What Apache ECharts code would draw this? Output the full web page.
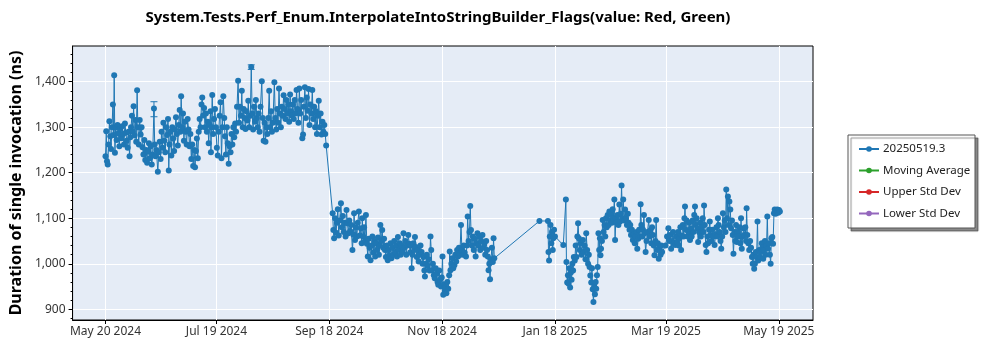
<!DOCTYPE html>
<html><head><meta charset="utf-8">
<script src="https://cdn.jsdelivr.net/npm/echarts@6/dist/echarts.min.js"></script>
<style>html,body{margin:0;padding:0;background:#fff}#c{width:1000px;height:350px}</style>
</head><body><div id="c"></div>
<script>
// ---------- texts ----------
const chartTitle = 'System.Tests.Perf_Enum.InterpolateIntoStringBuilder_Flags(value: Red, Green)';
const yAxisTitle = 'Duration of single invocation (ns)';
const seriesNames = ['20250519.3', 'Moving Average', 'Upper Std Dev', 'Lower Std Dev'];
const seriesColors = ['#1f77b4', '#2ca02c', '#d62728', '#9467bd'];

// x values are days since 2024-05-20
const xTickDays = [0, 60, 121, 182, 243, 303, 364];
const xTickLabels = ['May 20 2024', 'Jul 19 2024', 'Sep 18 2024', 'Nov 18 2024', 'Jan 18 2025', 'Mar 19 2025', 'May 19 2025'];
const yTickValues = [900, 1000, 1100, 1200, 1300, 1400];

// ---------- data: [day, ns] ----------
const runsMayJul = [[0,1236],[0.4,1291],[0.8,1225],[1.2,1218],[1.7,1262],[2.1,1313],[2.6,1280],[3,1252],[3.5,1300],[4,1350],[4.4,1283],[4.7,1414],[5.1,1244],[5.5,1300],[6,1272],[6.5,1305],[7,1286],[7.5,1258],[8,1296],[8.5,1276],[9,1302],[9.5,1285],[10,1262],[10.5,1308],[11,1288],[11.5,1270],[12,1255],[12.5,1290],[13,1236],[13.4,1278],[13.8,1300],[14.3,1325],[14.8,1290],[15.2,1346],[15.7,1282],[16.2,1316],[16.6,1268],[17.1,1381],[17.5,1300],[18,1262],[18.5,1316],[19,1284],[19.5,1300],[20,1256],
[20.5,1240],[21,1272],[21.5,1228],[22,1250],[22.5,1222],[23,1246],[23.5,1265],[24,1232],[24.5,1258],[25,1218],[25.5,1240],[26.2,1341],[26.6,1262],[27,1236],[27.5,1250],[28.3,1202],[28.8,1245],[29.3,1268],[29.8,1230],[30.3,1290],[30.8,1255],
[31.3,1310],[31.8,1270],[32.3,1245],[32.8,1300],[33.3,1283],[33.8,1318],[34.2,1205],[34.6,1262],[35.1,1290],[35.6,1238],[36.1,1300],[36.6,1275],[37.1,1248],[37.6,1295],[38.1,1322],[38.6,1285],[39.1,1260],[39.6,1305],[40.1,1338],[40.5,1290],[40.9,1368],[41.4,1300],[41.9,1330],[42.4,1270],[42.9,1312],[43.4,1290],[43.9,1262],[44.4,1318],[44.9,1295],
[45.4,1258],[45.9,1285],[46.4,1230],[46.9,1262],[47.4,1215],[47.9,1250],[48.4,1212],[48.9,1248],[49.4,1275],[49.9,1232],
[50.4,1290],[50.9,1318],[51.4,1300],[51.9,1350],[52.3,1365],[52.8,1326],[53.3,1342],[53.8,1300],[54.3,1330],[54.8,1290],[55.3,1312],[55.8,1265],[56.3,1305],[56.8,1335],[57,1245],[57.3,1300],[57.7,1371],[58.2,1285],[58.7,1318],[59.2,1340],[59.7,1300]];

const runsJulSep = [[60.2,1255],[60.7,1238],[61.2,1290],[61.7,1325],[62.2,1355],[62.7,1232],[63.2,1300],[63.7,1368],[64.2,1320],[64.6,1280],[65.1,1240],[65.6,1300],[66.1,1265],[66.6,1220],[67.1,1258],[67.6,1245],[68.1,1285],[68.6,1262],[69.1,1300],[69.6,1278],[70.1,1308],[70.6,1290],[71.1,1345],[71.7,1402],[72.2,1310],[72.7,1345],[73.2,1325],[73.7,1380],[74.2,1300],[74.7,1340],[75.2,1320],[75.7,1296],[76.2,1335],[76.7,1315],[77.2,1358],[77.7,1300],[78.3,1325],[78.8,1432],[79.3,1330],[79.8,1295],[80.3,1345],[80.8,1312],[81.3,1360],[81.8,1320],[82.3,1300],[82.8,1330],[83.3,1290],[83.8,1345],[84.5,1401],[85,1320],[85.5,1270],[86,1310],[86.5,1268],[87,1300],[87.5,1285],[88,1320],[88.5,1380],[89,1300],[89.5,1335],[90,1290],[90.5,1310],[91.3,1399],[91.8,1320],[92.3,1295],[92.8,1340],[93.3,1310],[93.8,1385],[94.3,1330],[94.8,1300],[95.3,1345],[95.8,1325],[96.3,1370],[96.8,1340],[97.3,1318],[97.8,1360],[98.3,1330],[98.8,1350],[99.3,1312],[99.8,1372],[100.3,1335],[100.8,1325],[101.3,1350],[101.8,1318],[102.3,1360],[102.8,1330],[103.3,1382],[103.8,1340],[104.3,1310],[104.8,1385],[105.3,1330],[105.8,1360],[106.4,1276],[106.8,1284],[107.3,1345],[107.8,1388],[108.3,1320],[108.8,1365],[109.3,1336],[109.8,1384],[110.3,1305],[110.8,1350],[111.3,1330],[111.8,1382],[112.3,1318],[112.8,1345],[113.3,1300],[113.8,1335],[114.3,1285],[114.8,1325],[115.3,1358],[115.8,1300],[116.3,1330],[116.8,1284],[117.3,1312],[117.8,1290],[118.3,1305],[118.8,1285],[119.3,1260]];

const runsSepDec = [[122.8,1111],[123.2,1074],[123.6,1056],[124.1,1100],[124.6,1068],[125.1,1090],[125.6,1120],[126.1,1062],[126.6,1095],[127.3,1133],[127.8,1080],[128.3,1105],[128.8,1070],[129.3,1090],[129.8,1060],[130.3,1118],[130.8,1089],[131.3,1067],[131.8,1095],[132.3,1072],[132.8,1085],[133.5,1030],[134,1064],[134.4,1111],[134.9,1052],[135.4,1080],[135.9,1060],[136.4,1090],[137,1115],[137.5,1062],[138,1078],[138.5,1045],[138.8,1100],[139.3,1060],[139.8,1080],[140.3,1050],[140.8,1107],[141.3,1044],[141.8,1016],[142.3,1055],[142.8,1035],[143.3,1008],[143.8,1040],[144.3,1060],[144.8,1025],[145.3,1050],[145.8,1016],[146.3,1045],[146.8,1030],[147.3,1058],[147.8,1020],[148.3,1040],[148.6,1085],[149.1,1050],[149.6,1074],[150.1,1035],[150.6,1055],[151.1,1030],[151.6,1015],[152.1,1040],[152.6,1008],[153.1,1030],[153.6,1018],[154.1,1045],[154.6,1012],[155.1,1035],[155.6,1020],[156.1,1050],[156.6,1025],[157.1,1040],[157.6,1016],[158.1,1059],[158.6,1030],[159.1,1045],[159.6,1020],[160.1,1040],[160.6,1026],[161.1,1067],[161.6,1035],[162.1,1050],[162.6,1020],[163.1,1040],[163.7,1063],[164.2,1044],[164.7,1025],[165.1,1040],[165.5,990],[166,1020],[166.5,1045],[167,1030],[167.3,1059],[167.8,1037],[168.3,1015],[168.8,1030],[169.3,1005],[169.8,1020],[170.3,1040],[170.9,1026],[171.4,1000],[171.9,1015],[172.4,985],[172.7,972],[173.2,1000],[173.7,1020],[174.2,995],[174.7,1010],[175.2,985],[175.7,1060],[176.1,1030],[176.5,986],[177,1000],[177.5,975],[178,968],[178.5,990],[179,978],[179.5,960],[179.9,954],[180.4,985],[180.9,965],[181.4,950],[181.8,970],[182.2,1016],[182.6,932],[183,955],[183.4,940],[183.8,948],[184.3,935],[184.8,960],[185.3,945],[185.8,975],[186.1,1027],[186.5,986],[187,1000],[187.5,1012],[188,990],[188.6,997],[189.1,1020],[189.6,1005],[190.1,1030],[190.6,1016],[191.1,1035],[191.6,1020],[192.2,1085],[192.7,1030],[193.2,1020],[193.7,1040],[194.2,1025],[194.9,1016],[195.4,1040],[195.8,1104],[196.3,1050],[196.8,1070],[197.2,1127],[197.6,1074],[198.1,1040],[198.6,1060],[199.1,1030],[199.6,1055],[200.1,1016],[200.6,1045],[201.1,1067],[201.6,1040],[202.1,1060],[202.6,1030],[203.1,1050],[203.8,1063],[204.3,1035],[204.8,1044],[205.3,1020],[205.8,1050],[206.3,1030],[206.7,1016],[207.1,986],[207.5,1000],[207.9,966],[208.4,1010],[208.9,1035],[209.4,1004],[209.8,1056],[210.2,1012]];

const runsJanMar = [[234.6,1094],[239.2,1094],[239.5,1026],[239.8,1007],[240.2,1060],[240.6,1085],[241,1045],[241.4,1070],[241.8,1030],[242.1,1056],[242.5,1075],[243,1060],[247.5,1041],[248.9,1141],[249.2,1004],[249.6,959],[250,975],[250.4,956],[250.8,990],[251.2,948],[251.6,981],[252,965],[252.4,1000],[252.8,985],[253.2,1015],[253.7,1007],[254.2,1040],[254.6,1015],[255.1,1060],[255.5,1089],[255.9,1056],[256.4,1030],[256.9,1045],[257.4,1020],[258.1,1052],[258.5,1026],[259,1040],[259.5,1010],[259.9,1067],[260.4,1030],[260.9,1000],[261.3,1020],[261.7,993],[262.1,974],[262.6,959],[263,990],[263.4,944],[263.8,916],[264.2,950],[264.6,933],[265,960],[265.3,945],[265.7,975],[266.1,993],[266.5,1067],[266.9,1030],[267.3,1056],[267.6,1019],[267.9,1033],[268.4,1050],[268.8,1096],[269.3,1070],[269.8,1085],[270.2,1060],[270.6,1100],[271,1080],[271.5,1107],[272,1085],[272.4,1115],[272.9,1095],[273.3,1110],[273.8,1090],[274.2,1120],[274.6,1100],[275.1,1141],[275.5,1052],[275.9,1100],[276.4,1090],[276.8,1107],[277.3,1085],[277.8,1130],[278.2,1093],[278.6,1110],[279,1172],[279.5,1100],[279.9,1141],[280.4,1095],[280.9,1119],[281.4,1100],[281.9,1085],[282.4,1110],[282.8,1090],[283.3,1075],[283.7,1085],[284.1,1063],[284.6,1075],[285.1,1052],[285.6,1065],[286.1,1045],[286.6,1060],[287.1,1070],[287.5,1033],[288,1055],[288.5,1075],[289,1060],[289.3,1131],[289.7,1085],[290.2,1060],[290.6,1075],[291.1,1107],[291.5,1067],[292,1026],[292.5,1050],[293,1070],[293.7,1096],[294.2,1060],[294.7,1074],[295.1,1045],[295.5,1080],[296,1063],[296.4,1040],[296.8,1019],[297.3,1050],[297.7,1096],[298.2,1030],[298.6,1045],[299.1,1011],[299.6,1035],[300.1,1020],[300.5,1040],[300.9,1026]];

const runsMarMay = [[302.8,1040],[303.6,1060],[304.3,1078],[304.8,1050],[305.3,1063],[305.8,1033],[306.3,1050],[306.8,1070],[307.3,1045],[308,1041],[308.5,1060],[309,1048],[309.5,1070],[309.9,1040],[310.3,1056],[310.8,1080],[311.2,1030],[311.6,1062],[312.1,1085],[312.6,1060],[313,1100],[313.3,1126],[313.7,1075],[314.2,1095],[314.7,1060],[315.1,1070],[315.6,1090],[316,1052],[316.5,1078],[316.9,1060],[317.4,1095],[317.9,1070],[318.3,1107],[318.7,1126],[319.1,1085],[319.6,1100],[320,1078],[320.4,1048],[320.9,1070],[321.4,1090],[321.9,1060],[322.4,1080],[322.9,1100],[323.3,1070],[323.6,1128],[324,1085],[324.5,1041],[324.9,1026],[325.4,1060],[325.8,1045],[326.3,1075],[326.7,1093],[327.1,1063],[327.6,1050],[328.1,1075],[328.6,1060],[329.3,1041],[329.8,1065],[330.3,1080],[330.7,1060],[331.1,1100],[331.5,1085],[332,1070],[332.5,1050],[332.9,1033],[333.4,1060],[333.8,1111],[334.3,1080],[334.8,1095],[335.2,1070],[335.6,1163],[336,1100],[336.5,1148],[336.9,1085],[337.3,1137],[337.8,1119],[338.2,1078],[338.7,1095],[339.1,1063],[339.5,1022],[340,1070],[340.5,1050],[340.9,1085],[341.3,1048],[341.8,1070],[342.3,1060],[342.8,1080],[343.2,1045],[343.6,1100],[344,1033],[344.5,1060],[345,1078],[345.4,1063],[345.9,1080],[346.3,1050],[346.6,1122],[347,1063],[347.5,1045],[348,1030],[348.5,1050],[349,1035],[349.5,1015],[349.9,1000],[350.3,1020],[350.7,989],[351.1,1000],[351.6,1026],[352,1015],[352.5,1093],[352.9,1007],[353.4,1030],[353.9,1015],[354.3,1026],[354.8,1045],[355.2,1037],[355.6,1011],[356,1030],[356.5,1050],[357,1020],[357.4,1040],[357.8,1104],[358.2,1033],[358.7,1045],[359.2,1020],[359.6,1000],[360,1056],[360.5,1059],[360.9,1044],[361.4,1111],[361.8,1119],[362.3,1110],[362.8,1116],[363.2,1119],[363.7,1112],[364.1,1118],[364.6,1115]];

// visible error bars: [day, low, high]
const errorBars = [[26.2,1323,1356],[78.8,1427,1437]];

// ---------- chart ----------
const FONT = "'Noto Sans', 'Open Sans', sans-serif";
const allRuns = runsMayJul.concat(runsJulSep, runsSepDec, runsJanMar, runsMarMay);
const minorY = [];
for (let v = 880; v <= 1460; v += 20) if (v % 100 !== 0) minorY.push(v);

const chart = echarts.init(document.getElementById('c'), null, {renderer: 'canvas'});
const xMin = -17.8, xMax = 382.5, yMin = 876.5, yMax = 1478.4;

chart.setOption({
  animation: false,
  textStyle: {fontFamily: FONT},
  grid: {left: 63, right: 187, top: 46, bottom: 30, show: true, backgroundColor: '#E5ECF6', borderColor: '#000', borderWidth: 1},
  graphic: [
    {type: 'text', x: 438, y: 18, z: 10, style: {text: chartTitle, textAlign: 'center', textVerticalAlign: 'middle', font: "bold 15px " + FONT, fill: '#000'}},
    {type: 'rect', z: 1, shape: {x: 848, y: 135, width: 127, height: 93}, style: {fill: '#fff', stroke: '#555', lineWidth: 1, shadowColor: 'rgba(0,0,0,0.45)', shadowOffsetX: 3, shadowOffsetY: 3, shadowBlur: 1}}
  ],
  legend: {
    orient: 'vertical', left: 858, top: 142, z: 20, padding: 0,
    itemWidth: 20, itemHeight: 7, itemGap: 7.5,
    textStyle: {fontSize: 11.5, color: '#222', fontFamily: FONT, lineHeight: 14, padding: [0, 0, 0, -1]},
    data: seriesNames
  },
  xAxis: {
    type: 'value', min: xMin, max: xMax,
    axisLine: {show: true, onZero: false, lineStyle: {color: '#000'}},
    axisTick: {show: true, length: 4, customValues: xTickDays, lineStyle: {color: '#000'}},
    axisLabel: {customValues: xTickDays, fontSize: 12, color: '#333', margin: 6,
      formatter: v => { const i = xTickDays.indexOf(Math.round(v)); return i >= 0 ? xTickLabels[i] : ''; }},
    splitLine: {show: true, lineStyle: {color: '#fff', width: 1}}
  },
  yAxis: [{
    type: 'value', min: yMin, max: yMax,
    name: yAxisTitle, nameLocation: 'middle', nameGap: 41,
    nameTextStyle: {fontSize: 16, fontWeight: 'bold', color: '#000', fontFamily: FONT},
    axisLine: {show: true, onZero: false, lineStyle: {color: '#000'}},
    axisTick: {show: true, length: 4, customValues: yTickValues, lineStyle: {color: '#000'}},
    axisLabel: {customValues: yTickValues, fontSize: 12, color: '#333', margin: 7,
      formatter: v => Math.round(v).toLocaleString('en-US')},
    splitLine: {show: true, lineStyle: {color: '#fff', width: 1}}
  }, {
    type: 'value', min: yMin, max: yMax, position: 'left', offset: 0,
    axisLine: {show: false, onZero: false},
    axisTick: {show: true, length: 2, customValues: minorY, lineStyle: {color: '#000'}},
    axisLabel: {show: false},
    splitLine: {show: false}
  }],
  series: [
    {name: seriesNames[0], type: 'line', data: allRuns, color: seriesColors[0],
      symbol: 'circle', symbolSize: 6, showSymbol: true, lineStyle: {width: 1, color: seriesColors[0]},
      itemStyle: {color: seriesColors[0]}, z: 3},
    {name: seriesNames[1], type: 'line', data: [], color: seriesColors[1], symbol: 'circle', itemStyle: {color: seriesColors[1]}},
    {name: seriesNames[2], type: 'line', data: [], color: seriesColors[2], symbol: 'circle', itemStyle: {color: seriesColors[2]}},
    {name: seriesNames[3], type: 'line', data: [], color: seriesColors[3], symbol: 'circle', itemStyle: {color: seriesColors[3]}},
    {name: 'errors', type: 'custom', data: errorBars, z: 4, encode: {x: 0, y: [1, 2]},
      renderItem: (params, api) => {
        const lo = api.coord([api.value(0), api.value(1)]);
        const hi = api.coord([api.value(0), api.value(2)]);
        const st = {stroke: seriesColors[0], lineWidth: 1};
        return {type: 'group', children: [
          {type: 'line', shape: {x1: lo[0], y1: lo[1], x2: hi[0], y2: hi[1]}, style: st},
          {type: 'line', shape: {x1: lo[0] - 3.5, y1: lo[1], x2: lo[0] + 3.5, y2: lo[1]}, style: st},
          {type: 'line', shape: {x1: hi[0] - 3.5, y1: hi[1], x2: hi[0] + 3.5, y2: hi[1]}, style: st}
        ]};
      }}
  ]
});
</script></body></html>
